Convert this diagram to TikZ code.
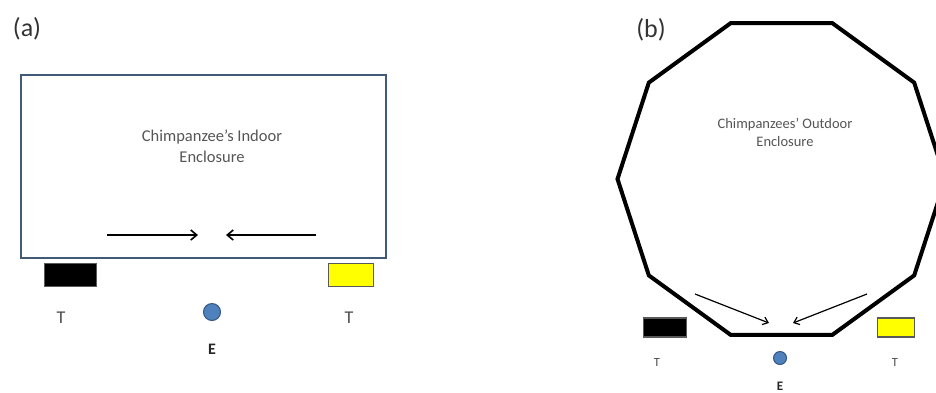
\documentclass[tikz,border=0pt]{standalone}
\usepackage{fontspec}
\setmainfont{Carlito}
\usetikzlibrary{positioning, arrows.meta, calc}
\definecolor{framegray}{RGB}{65,90,120}
\definecolor{textgray}{RGB}{85,85,85}
\definecolor{tokenyellow}{RGB}{255,255,0}
\definecolor{expblue}{RGB}{79,129,189}
\definecolor{expborder}{RGB}{50,85,130}

\begin{document}
\begin{tikzpicture}[x=1pt, y=-1pt,
    panellabel/.style={font=\fontsize{26}{30}\selectfont, text=black!80, inner sep=0},
    encbox/.style={rectangle, draw=framegray, line width=1.5pt, minimum width=365pt, minimum height=183pt},
    enctext/.style={align=center, text=textgray, inner sep=0},
    wallline/.style={line width=4pt, line join=miter},
    tokenbox/.style={rectangle, draw=black!65, line width=1.5pt, inner sep=0},
    expdot/.style={circle, fill=expblue, draw=expborder, line width=1pt, inner sep=0},
    tlabel/.style={text=black!70, inner sep=0},
    elabel/.style={text=black!85, inner sep=0},
    arrow/.style={-{Straight Barb[length=6pt, width=10pt]}, line width=1.6pt},
    smallarrow/.style={-{Straight Barb[length=5pt, width=8pt]}, line width=1.2pt}
]
\useasboundingbox (0,0) rectangle (936,392);

% === (a) INDOOR ENCLOSURE ===
\node[panellabel] (lab_a) at (27,29) {(a)};
\node[encbox] (indoor) at (203.5,166.5) {};
\node[enctext, font=\fontsize{16.5}{21}\selectfont] (indoor_txt) at (212,146.5) {Chimpanzee’s Indoor\\Enclosure};

% Approach arrows
\coordinate (a_l_start) at (107,235);
\coordinate (a_l_end) at (198,235);
\coordinate (a_r_start) at (316,235);
\coordinate (a_r_end) at (226,235);
\draw[arrow] (a_l_start) -- (a_l_end);
\draw[arrow] (a_r_start) -- (a_r_end);

% Tokens and experimenter
\node[tokenbox, fill=black, minimum width=52pt, minimum height=23pt] (a_tok_l) at (70.5,275) {};
\node[tokenbox, fill=tokenyellow, minimum width=45pt, minimum height=23pt] (a_tok_r) at (351,275) {};
\node[expdot, minimum size=17pt] (a_exp) at (212,312) {};
\node[tlabel, font=\fontsize{18}{21}\selectfont] (a_t_l) at (61,318) {T};
\node[tlabel, font=\fontsize{18}{21}\selectfont] (a_t_r) at (349,318) {T};
\node[elabel, font=\fontsize{16}{19}\selectfont\bfseries, below=23pt of a_exp] (a_e) {E};

% === (b) OUTDOOR ENCLOSURE ===
\node[panellabel] (lab_b) at (651,30) {(b)};
\coordinate (outc) at (781.5,179);
\foreach \k in {0,...,9}
    \path (outc) ++(\k*36:164) coordinate (v\k);
\draw[wallline] (v0) \foreach \k in {1,...,9}{ -- (v\k)} -- cycle;
\node[enctext, font=\fontsize{14.5}{18}\selectfont] (outdoor_txt) at (785,132) {Chimpanzees’ Outdoor\\Enclosure};

% Approach arrows
\coordinate (b_l_start) at (695,294);
\coordinate (b_l_end) at (769,323);
\coordinate (b_r_start) at (867,294);
\coordinate (b_r_end) at (793,323);
\draw[smallarrow] (b_l_start) -- (b_l_end);
\draw[smallarrow] (b_r_start) -- (b_r_end);

% Tokens and experimenter
\node[tokenbox, fill=black, minimum width=43pt, minimum height=19pt] (b_tok_l) at (665,327.5) {};
\node[tokenbox, fill=tokenyellow, minimum width=37pt, minimum height=19pt] (b_tok_r) at (896,327.5) {};
\node[expdot, minimum size=13pt] (b_exp) at (780,358) {};
\node[tlabel, font=\fontsize{12.5}{15}\selectfont] (b_t_l) at (657,362) {T};
\node[tlabel, font=\fontsize{12.5}{15}\selectfont] (b_t_r) at (895,362) {T};
\node[elabel, font=\fontsize{13}{15}\selectfont\bfseries, below=17pt of b_exp] (b_e) {E};
\end{tikzpicture}
\end{document}
